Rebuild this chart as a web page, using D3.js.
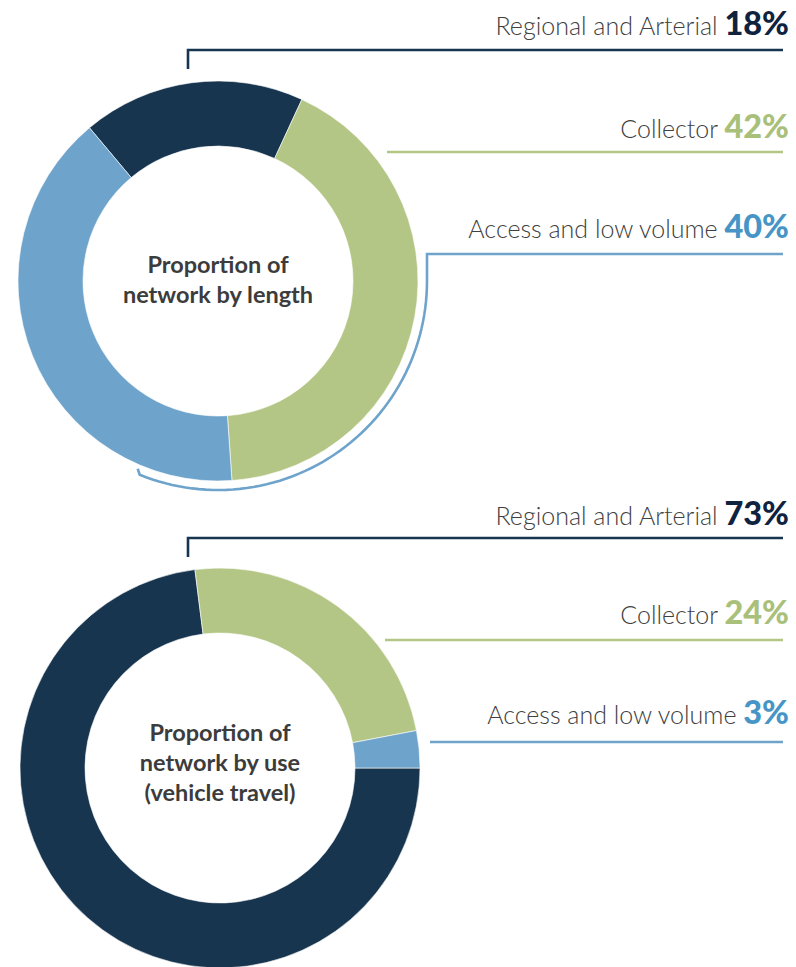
<!DOCTYPE html>
<html>
<head>
<meta charset="utf-8">
<script src="https://cdn.jsdelivr.net/npm/d3@7"></script>
<style>
  html, body { margin: 0; padding: 0; background: #fff; }
  svg { display: block; }
  .lbl { font-family: Lato, "Open Sans", sans-serif; font-weight: 300; fill: #404040; }
  .pct { font-family: Lato, "Open Sans", sans-serif; font-weight: 900; }
  .ctr { font-family: Lato, "Open Sans", sans-serif; font-weight: 700; fill: #3c3c3c; }
</style>
</head>
<body>
<svg id="chart" width="796" height="967"></svg>
<script>
// Road classes shown in both rings
const categories = ["Regional and Arterial", "Collector", "Access and low volume"];
// Share of network length (%)
const lengthShare = [18, 42, 40];
// Share of vehicle travel (%)
const useShare = [73, 24, 3];
// Centre captions
const lengthTitle = ["Proportion of", "network by length"];
const useTitle = ["Proportion of", "network by use", "(vehicle travel)"];

const ringColor = d3.scaleOrdinal().domain(categories).range(["#17354f", "#b4c685", "#6ea3cb"]);
const pctColor = d3.scaleOrdinal().domain(categories).range(["#0f2340", "#a9c07a", "#4795c6"]);

const svg = d3.select("#chart");
const deg = Math.PI / 180;

function drawRing(cfg) {
  const g = svg.append("g").attr("transform", `translate(${cfg.cx},${cfg.cy})`);
  const rows = categories.map((c, i) => ({ name: c, value: cfg.values[i] }));
  const pie = d3.pie().sort(null).value(d => d.value)
    .startAngle(cfg.start * deg).endAngle(cfg.start * deg + 2 * Math.PI);
  const arc = d3.arc().innerRadius(135).outerRadius(200);
  g.selectAll("path.slice").data(pie(rows)).join("path")
    .attr("class", "slice")
    .attr("d", arc)
    .attr("fill", d => ringColor(d.data.name))
    .attr("stroke", "#fff").attr("stroke-width", 0.6);

  // centre caption
  const t = g.append("text").attr("class", "ctr").attr("text-anchor", "middle")
    .attr("font-size", 23.5);
  const n = cfg.title.length;
  cfg.title.forEach((s, i) => {
    t.append("tspan").attr("x", 0).attr("y", (i - (n - 1) / 2) * cfg.lead + cfg.shift).text(s);
  });

  // legend rows on the right
  rows.forEach((d, i) => {
    const row = cfg.rows[i];
    const txt = svg.append("text").attr("text-anchor", "end")
      .attr("x", 789).attr("y", row.base);
    txt.append("tspan").attr("class", "lbl").attr("font-size", 25).text(d.name + " ");
    txt.append("tspan").attr("class", "pct").attr("font-size", 32.5)
      .attr("fill", pctColor(d.name)).text(d.value + "%");
  });

  const stroke = (sel, name) => sel.attr("fill", "none")
    .attr("stroke", ringColor(name)).attr("stroke-width", 2.6);

  // Regional leader: bracket with a drop at the left end
  const r0 = cfg.rows[0];
  stroke(svg.append("path").attr("d",
    `M${r0.x0},${r0.line + 19}V${r0.line}H783`), categories[0]);
  // Collector leader
  const r1 = cfg.rows[1];
  stroke(svg.append("path").attr("d", `M${r1.x0},${r1.line}H783`), categories[1]);
  // Access leader, optionally wrapping round the ring
  const r2 = cfg.rows[2];
  if (cfg.wrap) {
    const R = 209;
    const a0 = 90 * deg, a1 = cfg.wrapEnd * deg;
    const ex = cfg.cx + R * Math.sin(a1), ey = cfg.cy - R * Math.cos(a1);
    let d = `M783,${r2.line}H${cfg.cx + R}V${cfg.cy}`;
    const steps = 60;
    for (let k = 1; k <= steps; k++) {
      const a = a0 + (a1 - a0) * k / steps;
      d += `L${cfg.cx + R * Math.sin(a)},${cfg.cy - R * Math.cos(a)}`;
    }
    d += `L${ex - 2},${ey - 6}`;
    stroke(svg.append("path").attr("d", d).attr("stroke-linejoin", "miter"), categories[2]);
  } else {
    stroke(svg.append("path").attr("d", `M${r2.x0},${r2.line}H783`), categories[2]);
  }
}

drawRing({
  cx: 218, cy: 281, values: lengthShare, start: -40, title: lengthTitle,
  lead: 30, shift: 7,
  wrap: true, wrapEnd: 202,
  rows: [
    { base: 35, line: 50, x0: 188 },
    { base: 138, line: 152, x0: 387 },
    { base: 238, line: 254, x0: 427 }
  ]
});

drawRing({
  cx: 220, cy: 768, values: useShare, start: 90, title: useTitle,
  lead: 30, shift: 3,
  wrap: false,
  rows: [
    { base: 525, line: 538, x0: 188 },
    { base: 624, line: 640, x0: 385 },
    { base: 724, line: 742, x0: 430 }
  ]
});
</script>
</body>
</html>
